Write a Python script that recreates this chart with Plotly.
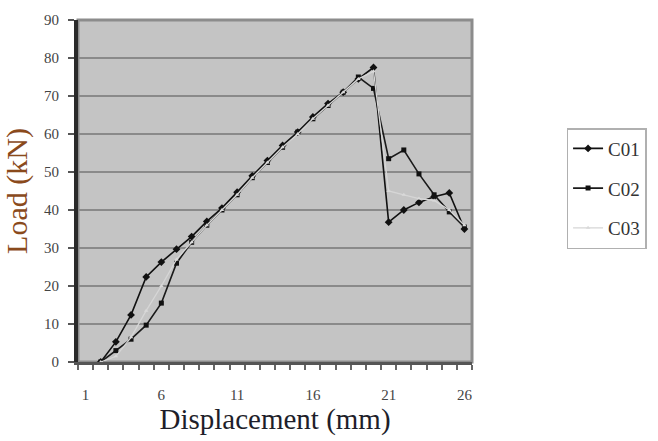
import plotly.graph_objects as go

categories = list(range(1, 27))
c01 = [None, 0, 5.3, 12.4, 22.4, 26.3, 29.7, 33, 37, 40.5, 44.7, 49, 53, 57, 60.5, 64.5, 68, 71, 74.5, 77.5,
       36.8, 40, 42, 43.5, 44.5, 35]
c02 = [None, 0, 3, 6, 9.7, 15.5, 26, 31.5, 36, 40, 44, 48.5, 52.5, 56.5, 60.5, 64, 67.5, 71, 75, 72,
       53.5, 55.8, 49.5, 44, 39.5, 35.5]
c03 = [None, 0, 1.5, 6.5, 13.5, 20, 27, 31.5, 36, 40, 44, 48.5, 52.5, 56.5, 60, 64, 67.5, 71, 74.5, 76.5,
       45, 44, 43, 42.5, 40, 36]
x_tick_vals = [1, 6, 11, 16, 21, 26]
y_tick_vals = [0, 10, 20, 30, 40, 50, 60, 70, 80, 90]

serif = "Liberation Serif, Times New Roman, serif"

fig = go.Figure()
fig.add_trace(go.Scatter(x=categories, y=c01, name="C01", mode="lines+markers",
                         line=dict(color="#111111", width=1.6),
                         marker=dict(symbol="diamond", size=6, color="#111111"),
                         legendgroup="a"))
fig.add_trace(go.Scatter(x=categories, y=c02, name="C02", mode="lines+markers",
                         line=dict(color="#1a1a1a", width=1.6),
                         marker=dict(symbol="square", size=5, color="#111111"),
                         legendgroup="b"))
fig.add_trace(go.Scatter(x=categories, y=c03, name="C03", mode="lines+markers",
                         line=dict(color="#d6d6d6", width=1.3),
                         marker=dict(symbol="triangle-up", size=4, color="#d9d9d9"),
                         legendgroup="c"))

fig.add_shape(type="rect", xref="paper", yref="paper", x0=0, y0=0, x1=1, y1=1,
              line=dict(color="#8c8c8c", width=3), layer="below")

fig.update_layout(
    width=658, height=441,
    margin=dict(l=78, r=180, t=20, b=79),
    paper_bgcolor="white",
    plot_bgcolor="#c4c4c4",
    font=dict(family=serif, color="#444444", size=15),
    showlegend=True,
    legend=dict(x=1.24, y=0.684, xanchor="left", yanchor="top",
                bgcolor="white", bordercolor="#b0b0b0", borderwidth=1.5,
                font=dict(family=serif, size=19, color="#333333"),
                tracegroupgap=12),
    xaxis=dict(range=[0.5, 26.5], tickvals=x_tick_vals, ticks="", showgrid=False,
               zeroline=False, showline=True, linecolor="#555555", linewidth=3,
               tickfont=dict(family=serif, size=15, color="#444444"),
               ticklabelstandoff=17,
               minor=dict(tick0=0.5, dtick=1, ticks="outside", ticklen=5,
                          tickcolor="#666666", tickwidth=1.5, showgrid=False),
               title=dict(text="Displacement (mm)", standoff=4,
                          font=dict(family=serif, size=29, color="#1e1e2a"))),
    yaxis=dict(range=[0, 90], tickvals=y_tick_vals, ticks="outside", ticklen=6,
               tickcolor="#555555", tickwidth=2,
               showgrid=True, gridcolor="#8a8a8a", gridwidth=2,
               zeroline=False, showline=True, linecolor="#2a2a2a", linewidth=4,
               tickfont=dict(family=serif, size=15, color="#444444"),
               ticklabelstandoff=6,
               title=dict(text="Load (kN)", standoff=10,
                          font=dict(family=serif, size=30, color="#8a4a1c"))),
)

fig.write_html("out.html")
